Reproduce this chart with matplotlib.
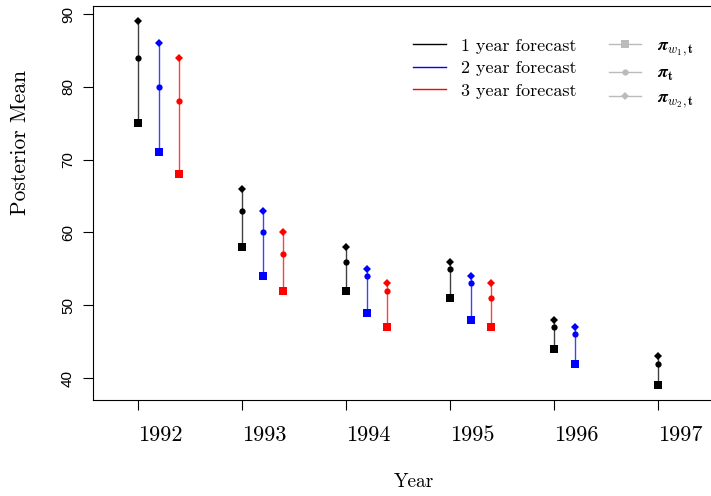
import matplotlib
matplotlib.use("Agg")
import matplotlib.pyplot as plt
from matplotlib.lines import Line2D
import numpy as np

plt.rcParams['mathtext.fontset'] = 'cm'
plt.rcParams['axes.unicode_minus'] = False

years = [1992, 1993, 1994, 1995, 1996, 1997]

# posterior means per horizon: (pi_w1, pi, pi_w2)
h1_low = [75, 58, 52, 51, 44, 39]
h1_mid = [84, 63, 56, 55, 47, 42]
h1_high = [89, 66, 58, 56, 48, 43]

h2_low = [71, 54, 49, 48, 42]
h2_mid = [80, 60, 54, 53, 46]
h2_high = [86, 63, 55, 54, 47]

h3_low = [68, 52, 47, 47]
h3_mid = [78, 57, 52, 51]
h3_high = [84, 60, 53, 53]

horizons = [
    (h1_low, h1_mid, h1_high, 'black', 0.0),
    (h2_low, h2_mid, h2_high, 'blue', 0.2),
    (h3_low, h3_mid, h3_high, 'red', 0.4),
]

fig = plt.figure(figsize=(7.11, 4.96), dpi=100)
ax = fig.add_axes([93/711, 96/496, 620/711, 394/496])

for low, mid, high, col, off in horizons:
    x = np.array(years[:len(low)]) + off
    ax.vlines(x, low, high, colors=col, lw=1, alpha=0.75, zorder=1)
    ax.plot(x, low, 's', color=col, ms=6.3, mew=0, zorder=3)
    ax.plot(x, mid, 'o', color=col, ms=4.5, mew=0, zorder=3)
    ax.plot(x, high, 'D', color=col, ms=3.8, mew=0, zorder=3)

ax.set_xlim(1991.57, 1997.53)
ax.set_ylim(37.0, 91.1)
ax.spines['right'].set_visible(False)
ax.set_xticks(years)
ax.set_xticklabels([str(y) for y in years], family='cmr10', fontsize=16, ha='left')
ax.set_yticks([40, 50, 60, 70, 80, 90])
ax.set_yticklabels(['40', '50', '60', '70', '80', '90'], rotation=90, va='center',
                   family='Liberation Sans', fontsize=11)
ax.tick_params(axis='x', length=7, pad=11)
ax.tick_params(axis='y', length=7, pad=6)
ax.set_xlabel('Year', family='cmr10', fontsize=14)
ax.xaxis.set_label_coords((414 - 93) / 620, (400 - 482) / 394)
ax.xaxis.label.set_va('center')
ax.set_ylabel('Posterior Mean', family='cmr10', fontsize=15.5)
ax.yaxis.set_label_coords((20 - 93) / 620, (400 - 142) / 394)
ax.yaxis.label.set_va('center')

handles = [
    Line2D([], [], color='black', lw=1),
    Line2D([], [], color='blue', lw=1),
    Line2D([], [], color='red', lw=1),
    Line2D([], [], color='#bbbbbb', lw=1, marker='s', ms=6, mew=0),
    Line2D([], [], color='#bbbbbb', lw=1, marker='o', ms=4.5, mew=0),
    Line2D([], [], color='#bbbbbb', lw=1, marker='D', ms=3.8, mew=0),
]
labels = ['1 year forecast', '2 year forecast', '3 year forecast',
          r'$\boldsymbol{\pi}_{w_1,\mathbf{t}}$', r'$\boldsymbol{\pi}_{\mathbf{t}}$',
          r'$\boldsymbol{\pi}_{w_2,\mathbf{t}}$']
leg = fig.legend(handles, labels, ncol=2, frameon=False, loc='upper left',
                 bbox_to_anchor=(413/711, 1 - 38/496), bbox_transform=fig.transFigure,
                 prop={'family': 'cmr10', 'size': 13}, borderpad=0, borderaxespad=0,
                 handlelength=1.8, columnspacing=1.8, labelspacing=0.38, handletextpad=0.85)

fig.savefig('out.png', dpi=100)
